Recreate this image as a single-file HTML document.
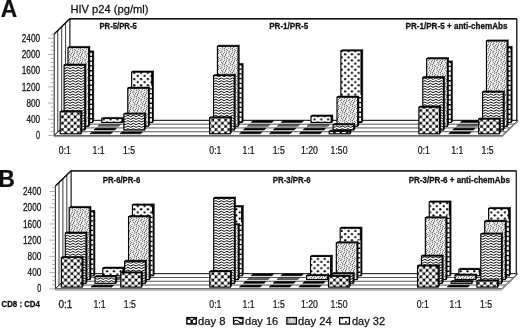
<!DOCTYPE html>
<html lang="en"><head><meta charset="utf-8"><title>HIV p24 figure</title>
<style>
html,body{margin:0;padding:0;background:#fff}
body{width:520px;height:329px;overflow:hidden}
svg{display:block}
text{font-family:"Liberation Sans",sans-serif;fill:#111;stroke:#111;stroke-width:0.25px}
.pl{font-weight:bold;font-size:23.2px}
.ti{font-size:11.2px}
.bt{font-weight:bold;font-size:9.3px;stroke-width:0.3px}
.ax{font-size:10.1px}
.cl{font-size:11.7px}
.lg{font-size:11.7px}
</style></head><body>
<svg width="520" height="329" viewBox="0 0 520 329">
<defs>
<pattern id="p0" width="6.4" height="6.4" patternUnits="userSpaceOnUse"><rect width="6.4" height="6.4" fill="#000"/><circle cx="1.600" cy="1.600" r="2.05" fill="#fff"/><circle cx="4.800" cy="4.800" r="2.05" fill="#fff"/><circle cx="8.000" cy="1.600" r="2.05" fill="#fff"/><circle cx="1.600" cy="8.000" r="2.05" fill="#fff"/><circle cx="-1.600" cy="4.800" r="2.05" fill="#fff"/><circle cx="4.800" cy="-1.600" r="2.05" fill="#fff"/><circle cx="8.000" cy="8.000" r="2.05" fill="#fff"/><circle cx="-1.600" cy="-1.600" r="2.05" fill="#fff"/></pattern>
<pattern id="p1" width="11" height="8" patternUnits="userSpaceOnUse"><rect width="11" height="8" fill="#fff"/><g fill="none" stroke="#000" stroke-width="1.0"><path d="M-2.75 -1.33 Q-1.375 -0.03 0 -1.33 T2.750 -1.33 T5.500 -1.33 T8.250 -1.33 T11.000 -1.33 T13.750 -1.33 T16.500 -1.33"/><path d="M-2.75 1.33 Q-1.375 2.63 0 1.33 T2.750 1.33 T5.500 1.33 T8.250 1.33 T11.000 1.33 T13.750 1.33 T16.500 1.33"/><path d="M-2.75 4.00 Q-1.375 5.30 0 4.00 T2.750 4.00 T5.500 4.00 T8.250 4.00 T11.000 4.00 T13.750 4.00 T16.500 4.00"/><path d="M-2.75 6.67 Q-1.375 7.97 0 6.67 T2.750 6.67 T5.500 6.67 T8.250 6.67 T11.000 6.67 T13.750 6.67 T16.500 6.67"/><path d="M-2.75 9.33 Q-1.375 10.63 0 9.33 T2.750 9.33 T5.500 9.33 T8.250 9.33 T11.000 9.33 T13.750 9.33 T16.500 9.33"/></g></pattern>
<pattern id="p2" width="8" height="8" patternUnits="userSpaceOnUse"><rect width="8" height="8" fill="#ececec"/><rect x="0" y="0" width="1" height="1" fill="#6e6e6e"/><rect x="0" y="2" width="1" height="1" fill="#6e6e6e"/><rect x="0" y="4" width="1" height="1" fill="#808080"/><rect x="1" y="6" width="1" height="1" fill="#6e6e6e"/><rect x="1" y="7" width="1" height="1" fill="#7a7a7a"/><rect x="2" y="1" width="1" height="1" fill="#6e6e6e"/><rect x="2" y="3" width="1" height="1" fill="#808080"/><rect x="2" y="5" width="1" height="1" fill="#6e6e6e"/><rect x="3" y="2" width="1" height="1" fill="#808080"/><rect x="4" y="0" width="1" height="1" fill="#929292"/><rect x="4" y="4" width="1" height="1" fill="#7a7a7a"/><rect x="5" y="3" width="1" height="1" fill="#808080"/><rect x="5" y="6" width="1" height="1" fill="#6e6e6e"/><rect x="6" y="1" width="1" height="1" fill="#929292"/><rect x="6" y="7" width="1" height="1" fill="#808080"/><rect x="7" y="5" width="1" height="1" fill="#6e6e6e"/><rect x="0" y="1" width="1" height="1" fill="#c4c4c4"/><rect x="2" y="4" width="1" height="1" fill="#c4c4c4"/><rect x="5" y="2" width="1" height="1" fill="#c4c4c4"/><rect x="5" y="4" width="1" height="1" fill="#c4c4c4"/><rect x="6" y="0" width="1" height="1" fill="#c4c4c4"/><rect x="6" y="3" width="1" height="1" fill="#c4c4c4"/><rect x="7" y="0" width="1" height="1" fill="#c4c4c4"/><rect x="7" y="6" width="1" height="1" fill="#c4c4c4"/></pattern>
<pattern id="p3" width="6.8" height="6.2" patternUnits="userSpaceOnUse"><rect width="6.8" height="6.2" fill="#fff"/><circle cx="1.7" cy="1.55" r="1.15" fill="#000"/><circle cx="5.1" cy="4.65" r="1.15" fill="#000"/></pattern>
</defs>
<rect width="520" height="329" fill="#fff"/>
<g stroke="#222" stroke-width="1" fill="#fff" stroke-linejoin="miter">
<polygon points="69.8,18.78 516.8,18.78 516.8,120.38 69.8,120.38"/>
<polygon points="54.2,33.9 69.8,18.78 69.8,120.38 54.2,135.5"/>
<line x1="57.8" y1="30.12" x2="57.8" y2="131.72" stroke-width="0.9"/>
<line x1="61.7" y1="26.34" x2="61.7" y2="127.94" stroke-width="0.9"/>
<line x1="65.6" y1="22.56" x2="65.6" y2="124.16" stroke-width="0.9"/>
<polyline points="54.2,33.9 69.8,18.78 516.8,18.78" fill="none" stroke="#111" stroke-width="1.4"/>
<polygon points="54.2,135.5 69.8,120.38 517.8,120.38 502.2,135.5"/>
<line x1="58.1" y1="131.72" x2="506.1" y2="131.72" stroke="#3a3a3a" stroke-width="0.85"/>
<line x1="62" y1="127.94" x2="510" y2="127.94" stroke="#3a3a3a" stroke-width="0.85"/>
<line x1="65.9" y1="124.16" x2="513.9" y2="124.16" stroke="#3a3a3a" stroke-width="0.85"/>
<polygon points="54.2,135.5 502.2,135.5 517.8,120.38 517.8,121.58 502.2,136.7 54.2,136.7" fill="#fff" stroke="#555" stroke-width="0.7"/>
<line x1="516.8" y1="18.78" x2="516.8" y2="120.38" stroke-width="1"/>
</g>
<g stroke="#8a8a8a" stroke-width="0.7">
<line x1="51" y1="34.15" x2="54.2" y2="34.15"/>
<line x1="48.2" y1="38.2" x2="54.2" y2="38.2"/>
<line x1="51" y1="42.25" x2="54.2" y2="42.25"/>
<line x1="51" y1="46.31" x2="54.2" y2="46.31"/>
<line x1="51" y1="50.36" x2="54.2" y2="50.36"/>
<line x1="48.2" y1="54.42" x2="54.2" y2="54.42"/>
<line x1="51" y1="58.47" x2="54.2" y2="58.47"/>
<line x1="51" y1="62.52" x2="54.2" y2="62.52"/>
<line x1="51" y1="66.58" x2="54.2" y2="66.58"/>
<line x1="48.2" y1="70.63" x2="54.2" y2="70.63"/>
<line x1="51" y1="74.69" x2="54.2" y2="74.69"/>
<line x1="51" y1="78.74" x2="54.2" y2="78.74"/>
<line x1="51" y1="82.79" x2="54.2" y2="82.79"/>
<line x1="48.2" y1="86.85" x2="54.2" y2="86.85"/>
<line x1="51" y1="90.9" x2="54.2" y2="90.9"/>
<line x1="51" y1="94.96" x2="54.2" y2="94.96"/>
<line x1="51" y1="99.01" x2="54.2" y2="99.01"/>
<line x1="48.2" y1="103.06" x2="54.2" y2="103.06"/>
<line x1="51" y1="107.12" x2="54.2" y2="107.12"/>
<line x1="51" y1="111.17" x2="54.2" y2="111.17"/>
<line x1="51" y1="115.23" x2="54.2" y2="115.23"/>
<line x1="48.2" y1="119.28" x2="54.2" y2="119.28"/>
<line x1="51" y1="123.33" x2="54.2" y2="123.33"/>
<line x1="51" y1="127.39" x2="54.2" y2="127.39"/>
<line x1="51" y1="131.44" x2="54.2" y2="131.44"/>
<line x1="48.2" y1="135.5" x2="54.2" y2="135.5"/>
</g>
<polygon points="92.59,122.46 93.72,121.36 93.72,50.9 92.59,52" fill="#000" stroke="#000" stroke-width="0.6"/>
<polygon points="71.89,52 92.59,52 93.72,50.9 73.02,50.9" fill="#000" stroke="#000" stroke-width="0.6"/>
<rect x="71.89" y="52" width="20.7" height="70.46" fill="url(#p3)" stroke="#000" stroke-width="1.15"/>
<line x1="91.99" y1="52" x2="91.99" y2="122.46" stroke="#000" stroke-width="1.0"/>
<line x1="90.79" y1="53.2" x2="90.79" y2="121.86" stroke="#fff" stroke-width="2.6"/>
<line x1="90.79" y1="53.2" x2="90.79" y2="121.96" stroke="#000" stroke-width="2.6" stroke-dasharray="1.3 3.5" stroke-dashoffset="-2.5"/>
<polygon points="122.48,122.46 123.61,121.36 123.61,117.4 122.48,118.5" fill="#000" stroke="#000" stroke-width="0.6"/>
<polygon points="101.78,118.5 122.48,118.5 123.61,117.4 102.91,117.4" fill="#000" stroke="#000" stroke-width="0.6"/>
<rect x="101.78" y="118.5" width="20.7" height="3.96" fill="url(#p3)" stroke="#000" stroke-width="1.15"/>
<line x1="121.88" y1="118.5" x2="121.88" y2="122.46" stroke="#000" stroke-width="1.0"/>
<polygon points="152.37,122.46 153.5,121.36 153.5,71 152.37,72.1" fill="#000" stroke="#000" stroke-width="0.6"/>
<polygon points="131.67,72.1 152.37,72.1 153.5,71 132.8,71" fill="#000" stroke="#000" stroke-width="0.6"/>
<rect x="131.67" y="72.1" width="20.7" height="50.36" fill="url(#p3)" stroke="#000" stroke-width="1.15"/>
<line x1="151.77" y1="72.1" x2="151.77" y2="122.46" stroke="#000" stroke-width="1.0"/>
<line x1="150.56" y1="85.7" x2="150.56" y2="121.86" stroke="#fff" stroke-width="2.6"/>
<line x1="150.56" y1="85.7" x2="150.56" y2="121.96" stroke="#000" stroke-width="2.6" stroke-dasharray="1.3 3.5" stroke-dashoffset="-2.5"/>
<polygon points="242.03,122.46 243.17,121.36 243.17,63.6 242.03,64.7" fill="#000" stroke="#000" stroke-width="0.6"/>
<polygon points="221.33,64.7 242.03,64.7 243.17,63.6 222.47,63.6" fill="#000" stroke="#000" stroke-width="0.6"/>
<rect x="221.33" y="64.7" width="20.7" height="57.76" fill="url(#p3)" stroke="#000" stroke-width="1.15"/>
<line x1="241.43" y1="64.7" x2="241.43" y2="122.46" stroke="#000" stroke-width="1.0"/>
<line x1="240.23" y1="65.9" x2="240.23" y2="121.86" stroke="#fff" stroke-width="2.6"/>
<line x1="240.23" y1="65.9" x2="240.23" y2="121.96" stroke="#000" stroke-width="2.6" stroke-dasharray="1.3 3.5" stroke-dashoffset="-2.5"/>
<polygon points="251.23,122.46 271.93,122.46 273.76,120.68 253.06,120.68" fill="#000" stroke="#000" stroke-width="0.6"/>
<polygon points="281.12,122.46 301.81,122.46 303.65,120.68 282.95,120.68" fill="#000" stroke="#000" stroke-width="0.6"/>
<polygon points="331.7,122.46 332.84,121.36 332.84,115 331.7,116.1" fill="#000" stroke="#000" stroke-width="0.6"/>
<polygon points="311,116.1 331.7,116.1 332.84,115 312.14,115" fill="#000" stroke="#000" stroke-width="0.6"/>
<rect x="311" y="116.1" width="20.7" height="6.36" fill="url(#p3)" stroke="#000" stroke-width="1.15"/>
<line x1="331.1" y1="116.1" x2="331.1" y2="122.46" stroke="#000" stroke-width="1.0"/>
<polygon points="361.59,122.46 362.73,121.36 362.73,49.7 361.59,50.8" fill="#000" stroke="#000" stroke-width="0.6"/>
<polygon points="340.89,50.8 361.59,50.8 362.73,49.7 342.03,49.7" fill="#000" stroke="#000" stroke-width="0.6"/>
<rect x="340.89" y="50.8" width="20.7" height="71.66" fill="url(#p3)" stroke="#000" stroke-width="1.15"/>
<line x1="360.99" y1="50.8" x2="360.99" y2="122.46" stroke="#000" stroke-width="1.0"/>
<line x1="359.79" y1="94.7" x2="359.79" y2="121.86" stroke="#fff" stroke-width="2.6"/>
<line x1="359.79" y1="94.7" x2="359.79" y2="121.96" stroke="#000" stroke-width="2.6" stroke-dasharray="1.3 3.5" stroke-dashoffset="-2.5"/>
<polygon points="451.26,122.46 452.4,121.36 452.4,60.9 451.26,62" fill="#000" stroke="#000" stroke-width="0.6"/>
<polygon points="430.56,62 451.26,62 452.4,60.9 431.7,60.9" fill="#000" stroke="#000" stroke-width="0.6"/>
<rect x="430.56" y="62" width="20.7" height="60.46" fill="url(#p3)" stroke="#000" stroke-width="1.15"/>
<line x1="450.66" y1="62" x2="450.66" y2="122.46" stroke="#000" stroke-width="1.0"/>
<line x1="449.46" y1="63.2" x2="449.46" y2="121.86" stroke="#fff" stroke-width="2.6"/>
<line x1="449.46" y1="63.2" x2="449.46" y2="121.96" stroke="#000" stroke-width="2.6" stroke-dasharray="1.3 3.5" stroke-dashoffset="-2.5"/>
<polygon points="460.45,122.46 481.15,122.46 482.99,120.68 462.29,120.68" fill="#000" stroke="#000" stroke-width="0.6"/>
<polygon points="511.05,122.46 512.18,121.36 512.18,46.4 511.05,47.5" fill="#000" stroke="#000" stroke-width="0.6"/>
<polygon points="490.35,47.5 511.05,47.5 512.18,46.4 491.48,46.4" fill="#000" stroke="#000" stroke-width="0.6"/>
<rect x="490.35" y="47.5" width="20.7" height="74.96" fill="url(#p3)" stroke="#000" stroke-width="1.15"/>
<line x1="510.44" y1="47.5" x2="510.44" y2="122.46" stroke="#000" stroke-width="1.0"/>
<line x1="509.25" y1="48.7" x2="509.25" y2="121.86" stroke="#fff" stroke-width="2.6"/>
<line x1="509.25" y1="48.7" x2="509.25" y2="121.96" stroke="#000" stroke-width="2.6" stroke-dasharray="1.3 3.5" stroke-dashoffset="-2.5"/>
<polygon points="88.69,126.24 89.82,125.14 89.82,46.4 88.69,47.5" fill="#000" stroke="#000" stroke-width="0.6"/>
<polygon points="67.99,47.5 88.69,47.5 89.82,46.4 69.12,46.4" fill="#000" stroke="#000" stroke-width="0.6"/>
<rect x="67.99" y="47.5" width="20.7" height="78.74" fill="url(#p2)" stroke="#000" stroke-width="1.15"/>
<polygon points="97.88,126.24 118.58,126.24 120.41,124.46 99.71,124.46" fill="#707070" stroke="#1a1a1a" stroke-width="0.6"/>
<polygon points="148.47,126.24 149.6,125.14 149.6,87.1 148.47,88.2" fill="#000" stroke="#000" stroke-width="0.6"/>
<polygon points="127.77,88.2 148.47,88.2 149.6,87.1 128.9,87.1" fill="#000" stroke="#000" stroke-width="0.6"/>
<rect x="127.77" y="88.2" width="20.7" height="38.04" fill="url(#p2)" stroke="#000" stroke-width="1.15"/>
<polygon points="238.13,126.24 239.27,125.14 239.27,45.2 238.13,46.3" fill="#000" stroke="#000" stroke-width="0.6"/>
<polygon points="217.43,46.3 238.13,46.3 239.27,45.2 218.57,45.2" fill="#000" stroke="#000" stroke-width="0.6"/>
<rect x="217.43" y="46.3" width="20.7" height="79.94" fill="url(#p2)" stroke="#000" stroke-width="1.15"/>
<polygon points="247.33,126.24 268.03,126.24 269.86,124.46 249.16,124.46" fill="#707070" stroke="#1a1a1a" stroke-width="0.6"/>
<polygon points="277.22,126.24 297.92,126.24 299.75,124.46 279.05,124.46" fill="#707070" stroke="#1a1a1a" stroke-width="0.6"/>
<polygon points="307.11,126.24 327.81,126.24 329.64,124.46 308.94,124.46" fill="#707070" stroke="#1a1a1a" stroke-width="0.6"/>
<polygon points="357.69,126.24 358.83,125.14 358.83,96.1 357.69,97.2" fill="#000" stroke="#000" stroke-width="0.6"/>
<polygon points="337,97.2 357.69,97.2 358.83,96.1 338.13,96.1" fill="#000" stroke="#000" stroke-width="0.6"/>
<rect x="337" y="97.2" width="20.7" height="29.04" fill="url(#p2)" stroke="#000" stroke-width="1.15"/>
<polygon points="447.37,126.24 448.5,125.14 448.5,57.6 447.37,58.7" fill="#000" stroke="#000" stroke-width="0.6"/>
<polygon points="426.67,58.7 447.37,58.7 448.5,57.6 427.8,57.6" fill="#000" stroke="#000" stroke-width="0.6"/>
<rect x="426.67" y="58.7" width="20.7" height="67.54" fill="url(#p2)" stroke="#000" stroke-width="1.15"/>
<polygon points="456.56,126.24 477.25,126.24 479.09,124.46 458.39,124.46" fill="#707070" stroke="#1a1a1a" stroke-width="0.6"/>
<polygon points="507.15,126.24 508.28,125.14 508.28,39.9 507.15,41" fill="#000" stroke="#000" stroke-width="0.6"/>
<polygon points="486.45,41 507.15,41 508.28,39.9 487.58,39.9" fill="#000" stroke="#000" stroke-width="0.6"/>
<rect x="486.45" y="41" width="20.7" height="85.24" fill="url(#p2)" stroke="#000" stroke-width="1.15"/>
<polygon points="84.79,130.02 85.92,128.92 85.92,64 84.79,65.1" fill="#000" stroke="#000" stroke-width="0.6"/>
<polygon points="64.09,65.1 84.79,65.1 85.92,64 65.22,64" fill="#000" stroke="#000" stroke-width="0.6"/>
<rect x="64.09" y="65.1" width="20.7" height="64.92" fill="url(#p1)" stroke="#000" stroke-width="1.15"/>
<polygon points="93.98,130.02 114.68,130.02 116.51,128.24 95.81,128.24" fill="#000" stroke="#000" stroke-width="0.6"/>
<polygon points="144.56,130.02 145.7,128.92 145.7,112.9 144.56,114" fill="#000" stroke="#000" stroke-width="0.6"/>
<polygon points="123.87,114 144.56,114 145.7,112.9 125,112.9" fill="#000" stroke="#000" stroke-width="0.6"/>
<rect x="123.87" y="114" width="20.7" height="16.02" fill="url(#p1)" stroke="#000" stroke-width="1.15"/>
<polygon points="234.23,130.02 235.37,128.92 235.37,74.4 234.23,75.5" fill="#000" stroke="#000" stroke-width="0.6"/>
<polygon points="213.53,75.5 234.23,75.5 235.37,74.4 214.67,74.4" fill="#000" stroke="#000" stroke-width="0.6"/>
<rect x="213.53" y="75.5" width="20.7" height="54.52" fill="url(#p1)" stroke="#000" stroke-width="1.15"/>
<polygon points="243.43,130.02 264.12,130.02 265.96,128.24 245.26,128.24" fill="#000" stroke="#000" stroke-width="0.6"/>
<polygon points="273.31,130.02 294.01,130.02 295.85,128.24 275.15,128.24" fill="#000" stroke="#000" stroke-width="0.6"/>
<polygon points="303.2,130.02 323.9,130.02 325.74,128.24 305.04,128.24" fill="#000" stroke="#000" stroke-width="0.6"/>
<polygon points="353.79,130.02 354.93,128.92 354.93,123.6 353.79,124.7" fill="#000" stroke="#000" stroke-width="0.6"/>
<polygon points="333.09,124.7 353.79,124.7 354.93,123.6 334.23,123.6" fill="#000" stroke="#000" stroke-width="0.6"/>
<rect x="333.09" y="124.7" width="20.7" height="5.32" fill="url(#p1)" stroke="#000" stroke-width="1.15"/>
<polygon points="443.46,130.02 444.6,128.92 444.6,76.4 443.46,77.5" fill="#000" stroke="#000" stroke-width="0.6"/>
<polygon points="422.76,77.5 443.46,77.5 444.6,76.4 423.9,76.4" fill="#000" stroke="#000" stroke-width="0.6"/>
<rect x="422.76" y="77.5" width="20.7" height="52.52" fill="url(#p1)" stroke="#000" stroke-width="1.15"/>
<polygon points="452.65,130.02 473.35,130.02 475.19,128.24 454.49,128.24" fill="#000" stroke="#000" stroke-width="0.6"/>
<polygon points="503.25,130.02 504.38,128.92 504.38,90.9 503.25,92" fill="#000" stroke="#000" stroke-width="0.6"/>
<polygon points="482.55,92 503.25,92 504.38,90.9 483.68,90.9" fill="#000" stroke="#000" stroke-width="0.6"/>
<rect x="482.55" y="92" width="20.7" height="38.02" fill="url(#p1)" stroke="#000" stroke-width="1.15"/>
<polygon points="80.89,133.8 82.02,132.7 82.02,110.7 80.89,111.8" fill="#000" stroke="#000" stroke-width="0.6"/>
<polygon points="60.19,111.8 80.89,111.8 82.02,110.7 61.32,110.7" fill="#000" stroke="#000" stroke-width="0.6"/>
<rect x="60.19" y="111.8" width="20.7" height="22" fill="url(#p0)" stroke="#000" stroke-width="1.15"/>
<polygon points="90.08,133.8 110.78,133.8 112.61,132.02 91.91,132.02" fill="#000" stroke="#000" stroke-width="0.6"/>
<polygon points="119.97,133.8 140.66,133.8 142.5,132.02 121.8,132.02" fill="#000" stroke="#000" stroke-width="0.6"/>
<polygon points="230.33,133.8 231.47,132.7 231.47,116.7 230.33,117.8" fill="#000" stroke="#000" stroke-width="0.6"/>
<polygon points="209.63,117.8 230.33,117.8 231.47,116.7 210.77,116.7" fill="#000" stroke="#000" stroke-width="0.6"/>
<rect x="209.63" y="117.8" width="20.7" height="16" fill="url(#p0)" stroke="#000" stroke-width="1.15"/>
<polygon points="239.53,133.8 260.23,133.8 262.06,132.02 241.36,132.02" fill="#000" stroke="#000" stroke-width="0.6"/>
<polygon points="269.42,133.8 290.12,133.8 291.95,132.02 271.25,132.02" fill="#000" stroke="#000" stroke-width="0.6"/>
<polygon points="299.31,133.8 320,133.8 321.84,132.02 301.14,132.02" fill="#000" stroke="#000" stroke-width="0.6"/>
<polygon points="349.89,133.8 351.03,132.7 351.03,130.2 349.89,131.3" fill="#000" stroke="#000" stroke-width="0.6"/>
<polygon points="329.19,131.3 349.89,131.3 351.03,130.2 330.33,130.2" fill="#000" stroke="#000" stroke-width="0.6"/>
<rect x="329.19" y="131.3" width="20.7" height="2.5" fill="url(#p0)" stroke="#000" stroke-width="1.15"/>
<polygon points="439.56,133.8 440.7,132.7 440.7,106.1 439.56,107.2" fill="#000" stroke="#000" stroke-width="0.6"/>
<polygon points="418.87,107.2 439.56,107.2 440.7,106.1 420,106.1" fill="#000" stroke="#000" stroke-width="0.6"/>
<rect x="418.87" y="107.2" width="20.7" height="26.6" fill="url(#p0)" stroke="#000" stroke-width="1.15"/>
<polygon points="448.75,133.8 469.45,133.8 471.29,132.02 450.59,132.02" fill="#000" stroke="#000" stroke-width="0.6"/>
<polygon points="499.35,133.8 500.48,132.7 500.48,118 499.35,119.1" fill="#000" stroke="#000" stroke-width="0.6"/>
<polygon points="478.65,119.1 499.35,119.1 500.48,118 479.78,118" fill="#000" stroke="#000" stroke-width="0.6"/>
<rect x="478.65" y="119.1" width="20.7" height="14.7" fill="url(#p0)" stroke="#000" stroke-width="1.15"/>
<g stroke="#222" stroke-width="1" fill="#fff" stroke-linejoin="miter">
<polygon points="71,170.88 516.3,170.88 516.3,273.68 71,273.68"/>
<polygon points="55.4,186 71,170.88 71,273.68 55.4,288.8"/>
<line x1="59" y1="182.22" x2="59" y2="285.02" stroke-width="0.9"/>
<line x1="62.9" y1="178.44" x2="62.9" y2="281.24" stroke-width="0.9"/>
<line x1="66.8" y1="174.66" x2="66.8" y2="277.46" stroke-width="0.9"/>
<polyline points="55.4,186 71,170.88 516.3,170.88" fill="none" stroke="#111" stroke-width="1.4"/>
<polygon points="55.4,288.8 71,273.68 517.3,273.68 501.7,288.8"/>
<line x1="59.3" y1="285.02" x2="505.6" y2="285.02" stroke="#3a3a3a" stroke-width="0.85"/>
<line x1="63.2" y1="281.24" x2="509.5" y2="281.24" stroke="#3a3a3a" stroke-width="0.85"/>
<line x1="67.1" y1="277.46" x2="513.4" y2="277.46" stroke="#3a3a3a" stroke-width="0.85"/>
<polygon points="55.4,288.8 501.7,288.8 517.3,273.68 517.3,274.88 501.7,290 55.4,290" fill="#fff" stroke="#555" stroke-width="0.7"/>
<line x1="516.3" y1="170.88" x2="516.3" y2="273.68" stroke-width="1"/>
</g>
<g stroke="#8a8a8a" stroke-width="0.7">
<line x1="52.2" y1="187.45" x2="55.4" y2="187.45"/>
<line x1="49.4" y1="191.5" x2="55.4" y2="191.5"/>
<line x1="52.2" y1="195.55" x2="55.4" y2="195.55"/>
<line x1="52.2" y1="199.61" x2="55.4" y2="199.61"/>
<line x1="52.2" y1="203.66" x2="55.4" y2="203.66"/>
<line x1="49.4" y1="207.72" x2="55.4" y2="207.72"/>
<line x1="52.2" y1="211.77" x2="55.4" y2="211.77"/>
<line x1="52.2" y1="215.82" x2="55.4" y2="215.82"/>
<line x1="52.2" y1="219.88" x2="55.4" y2="219.88"/>
<line x1="49.4" y1="223.93" x2="55.4" y2="223.93"/>
<line x1="52.2" y1="227.99" x2="55.4" y2="227.99"/>
<line x1="52.2" y1="232.04" x2="55.4" y2="232.04"/>
<line x1="52.2" y1="236.09" x2="55.4" y2="236.09"/>
<line x1="49.4" y1="240.15" x2="55.4" y2="240.15"/>
<line x1="52.2" y1="244.2" x2="55.4" y2="244.2"/>
<line x1="52.2" y1="248.26" x2="55.4" y2="248.26"/>
<line x1="52.2" y1="252.31" x2="55.4" y2="252.31"/>
<line x1="49.4" y1="256.36" x2="55.4" y2="256.36"/>
<line x1="52.2" y1="260.42" x2="55.4" y2="260.42"/>
<line x1="52.2" y1="264.47" x2="55.4" y2="264.47"/>
<line x1="52.2" y1="268.53" x2="55.4" y2="268.53"/>
<line x1="49.4" y1="272.58" x2="55.4" y2="272.58"/>
<line x1="52.2" y1="276.63" x2="55.4" y2="276.63"/>
<line x1="52.2" y1="280.69" x2="55.4" y2="280.69"/>
<line x1="52.2" y1="284.74" x2="55.4" y2="284.74"/>
<line x1="49.4" y1="288.8" x2="55.4" y2="288.8"/>
</g>
<polygon points="93.78,275.76 94.92,274.66 94.92,210.6 93.78,211.7" fill="#000" stroke="#000" stroke-width="0.6"/>
<polygon points="73.08,211.7 93.78,211.7 94.92,210.6 74.22,210.6" fill="#000" stroke="#000" stroke-width="0.6"/>
<rect x="73.08" y="211.7" width="20.7" height="64.06" fill="url(#p3)" stroke="#000" stroke-width="1.15"/>
<line x1="93.19" y1="211.7" x2="93.19" y2="275.76" stroke="#000" stroke-width="1.0"/>
<line x1="91.98" y1="212.9" x2="91.98" y2="275.16" stroke="#fff" stroke-width="2.6"/>
<line x1="91.98" y1="212.9" x2="91.98" y2="275.26" stroke="#000" stroke-width="2.6" stroke-dasharray="1.3 3.5" stroke-dashoffset="-2.5"/>
<polygon points="123.47,275.76 124.6,274.66 124.6,267.1 123.47,268.2" fill="#000" stroke="#000" stroke-width="0.6"/>
<polygon points="102.77,268.2 123.47,268.2 124.6,267.1 103.9,267.1" fill="#000" stroke="#000" stroke-width="0.6"/>
<rect x="102.77" y="268.2" width="20.7" height="7.56" fill="url(#p3)" stroke="#000" stroke-width="1.15"/>
<line x1="122.87" y1="268.2" x2="122.87" y2="275.76" stroke="#000" stroke-width="1.0"/>
<polygon points="153.14,275.76 154.28,274.66 154.28,203.9 153.14,205" fill="#000" stroke="#000" stroke-width="0.6"/>
<polygon points="132.44,205 153.14,205 154.28,203.9 133.58,203.9" fill="#000" stroke="#000" stroke-width="0.6"/>
<rect x="132.44" y="205" width="20.7" height="70.76" fill="url(#p3)" stroke="#000" stroke-width="1.15"/>
<line x1="152.54" y1="205" x2="152.54" y2="275.76" stroke="#000" stroke-width="1.0"/>
<line x1="151.34" y1="214.2" x2="151.34" y2="275.16" stroke="#fff" stroke-width="2.6"/>
<line x1="151.34" y1="214.2" x2="151.34" y2="275.26" stroke="#000" stroke-width="2.6" stroke-dasharray="1.3 3.5" stroke-dashoffset="-2.5"/>
<polygon points="242.19,275.76 243.32,274.66 243.32,205.6 242.19,206.7" fill="#000" stroke="#000" stroke-width="0.6"/>
<polygon points="221.49,206.7 242.19,206.7 243.32,205.6 222.62,205.6" fill="#000" stroke="#000" stroke-width="0.6"/>
<rect x="221.49" y="206.7" width="20.7" height="69.06" fill="url(#p3)" stroke="#000" stroke-width="1.15"/>
<line x1="241.59" y1="206.7" x2="241.59" y2="275.76" stroke="#000" stroke-width="1.0"/>
<line x1="240.38" y1="222.3" x2="240.38" y2="275.16" stroke="#fff" stroke-width="2.6"/>
<line x1="240.38" y1="222.3" x2="240.38" y2="275.26" stroke="#000" stroke-width="2.6" stroke-dasharray="1.3 3.5" stroke-dashoffset="-2.5"/>
<polygon points="251.16,275.76 271.87,275.76 273.7,273.98 253,273.98" fill="#000" stroke="#000" stroke-width="0.6"/>
<polygon points="280.84,275.76 301.54,275.76 303.38,273.98 282.68,273.98" fill="#000" stroke="#000" stroke-width="0.6"/>
<polygon points="331.22,275.76 332.36,274.66 332.36,255.3 331.22,256.4" fill="#000" stroke="#000" stroke-width="0.6"/>
<polygon points="310.52,256.4 331.22,256.4 332.36,255.3 311.66,255.3" fill="#000" stroke="#000" stroke-width="0.6"/>
<rect x="310.52" y="256.4" width="20.7" height="19.36" fill="url(#p3)" stroke="#000" stroke-width="1.15"/>
<line x1="330.62" y1="256.4" x2="330.62" y2="275.76" stroke="#000" stroke-width="1.0"/>
<polygon points="360.9,275.76 362.04,274.66 362.04,227.1 360.9,228.2" fill="#000" stroke="#000" stroke-width="0.6"/>
<polygon points="340.2,228.2 360.9,228.2 362.04,227.1 341.34,227.1" fill="#000" stroke="#000" stroke-width="0.6"/>
<rect x="340.2" y="228.2" width="20.7" height="47.56" fill="url(#p3)" stroke="#000" stroke-width="1.15"/>
<line x1="360.3" y1="228.2" x2="360.3" y2="275.76" stroke="#000" stroke-width="1.0"/>
<line x1="359.1" y1="240.3" x2="359.1" y2="275.16" stroke="#fff" stroke-width="2.6"/>
<line x1="359.1" y1="240.3" x2="359.1" y2="275.26" stroke="#000" stroke-width="2.6" stroke-dasharray="1.3 3.5" stroke-dashoffset="-2.5"/>
<polygon points="449.94,275.76 451.08,274.66 451.08,200.9 449.94,202" fill="#000" stroke="#000" stroke-width="0.6"/>
<polygon points="429.24,202 449.94,202 451.08,200.9 430.38,200.9" fill="#000" stroke="#000" stroke-width="0.6"/>
<rect x="429.24" y="202" width="20.7" height="73.76" fill="url(#p3)" stroke="#000" stroke-width="1.15"/>
<line x1="449.34" y1="202" x2="449.34" y2="275.76" stroke="#000" stroke-width="1.0"/>
<line x1="448.14" y1="215.3" x2="448.14" y2="275.16" stroke="#fff" stroke-width="2.6"/>
<line x1="448.14" y1="215.3" x2="448.14" y2="275.26" stroke="#000" stroke-width="2.6" stroke-dasharray="1.3 3.5" stroke-dashoffset="-2.5"/>
<polygon points="479.62,275.76 480.76,274.66 480.76,268.3 479.62,269.4" fill="#000" stroke="#000" stroke-width="0.6"/>
<polygon points="458.92,269.4 479.62,269.4 480.76,268.3 460.06,268.3" fill="#000" stroke="#000" stroke-width="0.6"/>
<rect x="458.92" y="269.4" width="20.7" height="6.36" fill="url(#p3)" stroke="#000" stroke-width="1.15"/>
<line x1="479.02" y1="269.4" x2="479.02" y2="275.76" stroke="#000" stroke-width="1.0"/>
<line x1="477.82" y1="272.6" x2="477.82" y2="275.16" stroke="#fff" stroke-width="2.6"/>
<line x1="477.82" y1="272.6" x2="477.82" y2="275.26" stroke="#000" stroke-width="2.6" stroke-dasharray="1.3 3.5" stroke-dashoffset="-2.5"/>
<polygon points="509.3,275.76 510.44,274.66 510.44,207.4 509.3,208.5" fill="#000" stroke="#000" stroke-width="0.6"/>
<polygon points="488.6,208.5 509.3,208.5 510.44,207.4 489.74,207.4" fill="#000" stroke="#000" stroke-width="0.6"/>
<rect x="488.6" y="208.5" width="20.7" height="67.26" fill="url(#p3)" stroke="#000" stroke-width="1.15"/>
<line x1="508.7" y1="208.5" x2="508.7" y2="275.76" stroke="#000" stroke-width="1.0"/>
<line x1="507.5" y1="218.8" x2="507.5" y2="275.16" stroke="#fff" stroke-width="2.6"/>
<line x1="507.5" y1="218.8" x2="507.5" y2="275.26" stroke="#000" stroke-width="2.6" stroke-dasharray="1.3 3.5" stroke-dashoffset="-2.5"/>
<polygon points="89.89,279.54 91.02,278.44 91.02,206.4 89.89,207.5" fill="#000" stroke="#000" stroke-width="0.6"/>
<polygon points="69.19,207.5 89.89,207.5 91.02,206.4 70.32,206.4" fill="#000" stroke="#000" stroke-width="0.6"/>
<rect x="69.19" y="207.5" width="20.7" height="72.04" fill="url(#p2)" stroke="#000" stroke-width="1.15"/>
<polygon points="98.87,279.54 119.57,279.54 121.4,277.76 100.7,277.76" fill="#707070" stroke="#1a1a1a" stroke-width="0.6"/>
<polygon points="149.24,279.54 150.38,278.44 150.38,215.6 149.24,216.7" fill="#000" stroke="#000" stroke-width="0.6"/>
<polygon points="128.54,216.7 149.24,216.7 150.38,215.6 129.68,215.6" fill="#000" stroke="#000" stroke-width="0.6"/>
<rect x="128.54" y="216.7" width="20.7" height="62.84" fill="url(#p2)" stroke="#000" stroke-width="1.15"/>
<polygon points="238.28,279.54 239.42,278.44 239.42,223.7 238.28,224.8" fill="#000" stroke="#000" stroke-width="0.6"/>
<polygon points="217.59,224.8 238.28,224.8 239.42,223.7 218.72,223.7" fill="#000" stroke="#000" stroke-width="0.6"/>
<rect x="217.59" y="224.8" width="20.7" height="54.74" fill="url(#p2)" stroke="#000" stroke-width="1.15"/>
<polygon points="247.26,279.54 267.96,279.54 269.8,277.76 249.1,277.76" fill="#707070" stroke="#1a1a1a" stroke-width="0.6"/>
<polygon points="276.94,279.54 297.64,279.54 299.48,277.76 278.78,277.76" fill="#707070" stroke="#1a1a1a" stroke-width="0.6"/>
<polygon points="327.32,279.54 328.46,278.44 328.46,274.4 327.32,275.5" fill="#000" stroke="#000" stroke-width="0.6"/>
<polygon points="306.62,275.5 327.32,275.5 328.46,274.4 307.76,274.4" fill="#000" stroke="#000" stroke-width="0.6"/>
<rect x="306.62" y="275.5" width="20.7" height="4.04" fill="url(#p2)" stroke="#000" stroke-width="1.15"/>
<polygon points="357,279.54 358.14,278.44 358.14,241.7 357,242.8" fill="#000" stroke="#000" stroke-width="0.6"/>
<polygon points="336.31,242.8 357,242.8 358.14,241.7 337.44,241.7" fill="#000" stroke="#000" stroke-width="0.6"/>
<rect x="336.31" y="242.8" width="20.7" height="36.74" fill="url(#p2)" stroke="#000" stroke-width="1.15"/>
<polygon points="446.04,279.54 447.18,278.44 447.18,216.7 446.04,217.8" fill="#000" stroke="#000" stroke-width="0.6"/>
<polygon points="425.34,217.8 446.04,217.8 447.18,216.7 426.48,216.7" fill="#000" stroke="#000" stroke-width="0.6"/>
<rect x="425.34" y="217.8" width="20.7" height="61.74" fill="url(#p2)" stroke="#000" stroke-width="1.15"/>
<polygon points="475.72,279.54 476.86,278.44 476.86,274 475.72,275.1" fill="#000" stroke="#000" stroke-width="0.6"/>
<polygon points="455.02,275.1 475.72,275.1 476.86,274 456.16,274" fill="#000" stroke="#000" stroke-width="0.6"/>
<rect x="455.02" y="275.1" width="20.7" height="4.44" fill="url(#p2)" stroke="#000" stroke-width="1.15"/>
<polygon points="505.4,279.54 506.54,278.44 506.54,220.2 505.4,221.3" fill="#000" stroke="#000" stroke-width="0.6"/>
<polygon points="484.7,221.3 505.4,221.3 506.54,220.2 485.84,220.2" fill="#000" stroke="#000" stroke-width="0.6"/>
<rect x="484.7" y="221.3" width="20.7" height="58.24" fill="url(#p2)" stroke="#000" stroke-width="1.15"/>
<polygon points="85.98,283.32 87.12,282.22 87.12,232 85.98,233.1" fill="#000" stroke="#000" stroke-width="0.6"/>
<polygon points="65.28,233.1 85.98,233.1 87.12,232 66.42,232" fill="#000" stroke="#000" stroke-width="0.6"/>
<rect x="65.28" y="233.1" width="20.7" height="50.22" fill="url(#p1)" stroke="#000" stroke-width="1.15"/>
<polygon points="115.67,283.32 116.8,282.22 116.8,275.6 115.67,276.7" fill="#000" stroke="#000" stroke-width="0.6"/>
<polygon points="94.97,276.7 115.67,276.7 116.8,275.6 96.1,275.6" fill="#000" stroke="#000" stroke-width="0.6"/>
<rect x="94.97" y="276.7" width="20.7" height="6.62" fill="url(#p1)" stroke="#000" stroke-width="1.15"/>
<polygon points="145.34,283.32 146.48,282.22 146.48,260.2 145.34,261.3" fill="#000" stroke="#000" stroke-width="0.6"/>
<polygon points="124.64,261.3 145.34,261.3 146.48,260.2 125.78,260.2" fill="#000" stroke="#000" stroke-width="0.6"/>
<rect x="124.64" y="261.3" width="20.7" height="22.02" fill="url(#p1)" stroke="#000" stroke-width="1.15"/>
<polygon points="234.38,283.32 235.52,282.22 235.52,197.1 234.38,198.2" fill="#000" stroke="#000" stroke-width="0.6"/>
<polygon points="213.69,198.2 234.38,198.2 235.52,197.1 214.82,197.1" fill="#000" stroke="#000" stroke-width="0.6"/>
<rect x="213.69" y="198.2" width="20.7" height="85.12" fill="url(#p1)" stroke="#000" stroke-width="1.15"/>
<polygon points="243.36,283.32 264.06,283.32 265.9,281.54 245.2,281.54" fill="#000" stroke="#000" stroke-width="0.6"/>
<polygon points="273.04,283.32 293.74,283.32 295.58,281.54 274.88,281.54" fill="#000" stroke="#000" stroke-width="0.6"/>
<polygon points="302.72,283.32 323.42,283.32 325.26,281.54 304.56,281.54" fill="#000" stroke="#000" stroke-width="0.6"/>
<polygon points="353.1,283.32 354.24,282.22 354.24,272.6 353.1,273.7" fill="#000" stroke="#000" stroke-width="0.6"/>
<polygon points="332.4,273.7 353.1,273.7 354.24,272.6 333.54,272.6" fill="#000" stroke="#000" stroke-width="0.6"/>
<rect x="332.4" y="273.7" width="20.7" height="9.62" fill="url(#p1)" stroke="#000" stroke-width="1.15"/>
<polygon points="442.14,283.32 443.28,282.22 443.28,255 442.14,256.1" fill="#000" stroke="#000" stroke-width="0.6"/>
<polygon points="421.44,256.1 442.14,256.1 443.28,255 422.58,255" fill="#000" stroke="#000" stroke-width="0.6"/>
<rect x="421.44" y="256.1" width="20.7" height="27.22" fill="url(#p1)" stroke="#000" stroke-width="1.15"/>
<polygon points="471.82,283.32 472.96,282.22 472.96,280.5 471.82,281.6" fill="#000" stroke="#000" stroke-width="0.6"/>
<polygon points="451.12,281.6 471.82,281.6 472.96,280.5 452.26,280.5" fill="#000" stroke="#000" stroke-width="0.6"/>
<rect x="451.12" y="281.6" width="20.7" height="1.72" fill="url(#p1)" stroke="#000" stroke-width="1.15"/>
<polygon points="501.5,283.32 502.64,282.22 502.64,232.9 501.5,234" fill="#000" stroke="#000" stroke-width="0.6"/>
<polygon points="480.8,234 501.5,234 502.64,232.9 481.94,232.9" fill="#000" stroke="#000" stroke-width="0.6"/>
<rect x="480.8" y="234" width="20.7" height="49.32" fill="url(#p1)" stroke="#000" stroke-width="1.15"/>
<polygon points="82.08,287.1 83.22,286 83.22,256.4 82.08,257.5" fill="#000" stroke="#000" stroke-width="0.6"/>
<polygon points="61.38,257.5 82.08,257.5 83.22,256.4 62.52,256.4" fill="#000" stroke="#000" stroke-width="0.6"/>
<rect x="61.38" y="257.5" width="20.7" height="29.6" fill="url(#p0)" stroke="#000" stroke-width="1.15"/>
<polygon points="91.06,287.1 111.77,287.1 113.6,285.32 92.9,285.32" fill="#000" stroke="#000" stroke-width="0.6"/>
<polygon points="141.44,287.1 142.58,286 142.58,271.7 141.44,272.8" fill="#000" stroke="#000" stroke-width="0.6"/>
<polygon points="120.74,272.8 141.44,272.8 142.58,271.7 121.88,271.7" fill="#000" stroke="#000" stroke-width="0.6"/>
<rect x="120.74" y="272.8" width="20.7" height="14.3" fill="url(#p0)" stroke="#000" stroke-width="1.15"/>
<polygon points="230.48,287.1 231.62,286 231.62,270.4 230.48,271.5" fill="#000" stroke="#000" stroke-width="0.6"/>
<polygon points="209.78,271.5 230.48,271.5 231.62,270.4 210.92,270.4" fill="#000" stroke="#000" stroke-width="0.6"/>
<rect x="209.78" y="271.5" width="20.7" height="15.6" fill="url(#p0)" stroke="#000" stroke-width="1.15"/>
<polygon points="239.46,287.1 260.16,287.1 262,285.32 241.3,285.32" fill="#000" stroke="#000" stroke-width="0.6"/>
<polygon points="269.14,287.1 289.84,287.1 291.68,285.32 270.98,285.32" fill="#000" stroke="#000" stroke-width="0.6"/>
<polygon points="298.82,287.1 319.52,287.1 321.36,285.32 300.66,285.32" fill="#000" stroke="#000" stroke-width="0.6"/>
<polygon points="349.2,287.1 350.34,286 350.34,275.2 349.2,276.3" fill="#000" stroke="#000" stroke-width="0.6"/>
<polygon points="328.5,276.3 349.2,276.3 350.34,275.2 329.64,275.2" fill="#000" stroke="#000" stroke-width="0.6"/>
<rect x="328.5" y="276.3" width="20.7" height="10.8" fill="url(#p0)" stroke="#000" stroke-width="1.15"/>
<polygon points="438.24,287.1 439.38,286 439.38,264.8 438.24,265.9" fill="#000" stroke="#000" stroke-width="0.6"/>
<polygon points="417.54,265.9 438.24,265.9 439.38,264.8 418.68,264.8" fill="#000" stroke="#000" stroke-width="0.6"/>
<rect x="417.54" y="265.9" width="20.7" height="21.2" fill="url(#p0)" stroke="#000" stroke-width="1.15"/>
<polygon points="447.22,287.1 467.92,287.1 469.76,285.32 449.06,285.32" fill="#000" stroke="#000" stroke-width="0.6"/>
<polygon points="497.6,287.1 498.74,286 498.74,279.8 497.6,280.9" fill="#000" stroke="#000" stroke-width="0.6"/>
<polygon points="476.9,280.9 497.6,280.9 498.74,279.8 478.04,279.8" fill="#000" stroke="#000" stroke-width="0.6"/>
<rect x="476.9" y="280.9" width="20.7" height="6.2" fill="url(#p0)" stroke="#000" stroke-width="1.15"/>
<text transform="translate(21.8 41.85) scale(0.8143 1)" x="-0" y="0" class="ax">2400</text>
<text transform="translate(21.8 58.07) scale(0.8143 1)" x="-0" y="0" class="ax">2000</text>
<text transform="translate(21.8 74.28) scale(0.8143 1)" x="-0" y="0" class="ax">1600</text>
<text transform="translate(21.8 90.5) scale(0.8143 1)" x="-0" y="0" class="ax">1200</text>
<text transform="translate(26.4 106.71) scale(0.8122 1)" x="-0" y="0" class="ax">800</text>
<text transform="translate(26.4 122.93) scale(0.8122 1)" x="-0" y="0" class="ax">400</text>
<text transform="translate(36.1 139.15) scale(0.7136 1)" x="-0" y="0" class="ax">0</text>
<text transform="translate(23 195.15) scale(0.8143 1)" x="-0" y="0" class="ax">2400</text>
<text transform="translate(23 211.37) scale(0.8143 1)" x="-0" y="0" class="ax">2000</text>
<text transform="translate(23 227.58) scale(0.8143 1)" x="-0" y="0" class="ax">1600</text>
<text transform="translate(23 243.8) scale(0.8143 1)" x="-0" y="0" class="ax">1200</text>
<text transform="translate(27.6 260.01) scale(0.8122 1)" x="-0" y="0" class="ax">800</text>
<text transform="translate(27.6 276.23) scale(0.8122 1)" x="-0" y="0" class="ax">400</text>
<text transform="translate(37.3 292.45) scale(0.7136 1)" x="-0" y="0" class="ax">0</text>
<text transform="translate(0.8 17) scale(0.9818 1)" x="-0" y="0" class="pl">A</text>
<text transform="translate(-1.8 187.2) scale(0.9938 1)" x="-0" y="0" class="pl">B</text>
<text transform="translate(70.4 12.6) scale(0.9967 1)" x="-0" y="0" class="ti">HIV p24 (pg/ml)</text>
<text transform="translate(99.4 29) scale(0.8317 1)" x="-0" y="0" class="bt">PR-5/PR-5</text>
<text transform="translate(269.2 29.1) scale(0.8696 1)" x="-0" y="0" class="bt">PR-1/PR-5</text>
<text transform="translate(405.5 29) scale(0.8715 1)" x="-0" y="0" class="bt">PR-1/PR-5 + anti-chemAbs</text>
<text transform="translate(102.8 183) scale(0.8340 1)" x="-0" y="0" class="bt">PR-6/PR-6</text>
<text transform="translate(272.8 183) scale(0.8451 1)" x="-0" y="0" class="bt">PR-3/PR-6</text>
<text transform="translate(408.7 182.8) scale(0.8655 1)" x="-0" y="0" class="bt">PR-3/PR-6 + anti-chemAbs</text>
<text transform="translate(1.5 307.2) scale(0.8466 1)" x="-0" y="0" class="bt">CD8 : CD4</text>
<text transform="translate(58.79 153.7) scale(0.7450 1)" x="0" y="0" class="cl">0:1</text>
<text transform="translate(92.61 153.7) scale(0.7450 1)" x="0" y="0" class="cl">1:1</text>
<text transform="translate(122.99 153.7) scale(0.7450 1)" x="0" y="0" class="cl">1:5</text>
<text transform="translate(209.29 153.7) scale(0.7450 1)" x="0" y="0" class="cl">0:1</text>
<text transform="translate(242.61 153.7) scale(0.7450 1)" x="0" y="0" class="cl">1:1</text>
<text transform="translate(272.69 153.7) scale(0.7450 1)" x="0" y="0" class="cl">1:5</text>
<text transform="translate(300.95 153.7) scale(0.7450 1)" x="0" y="0" class="cl">1:20</text>
<text transform="translate(330.55 153.7) scale(0.7450 1)" x="0" y="0" class="cl">1:50</text>
<text transform="translate(417.69 153.7) scale(0.7450 1)" x="0" y="0" class="cl">0:1</text>
<text transform="translate(451.21 153.7) scale(0.7450 1)" x="0" y="0" class="cl">1:1</text>
<text transform="translate(481.59 153.7) scale(0.7450 1)" x="0" y="0" class="cl">1:5</text>
<text transform="translate(58.46 307.7) scale(0.8600 1)" x="0" y="0" class="cl">0:1</text>
<text transform="translate(93.51 307.7) scale(0.7450 1)" x="0" y="0" class="cl">1:1</text>
<text transform="translate(123.79 307.7) scale(0.7450 1)" x="0" y="0" class="cl">1:5</text>
<text transform="translate(209.29 307.7) scale(0.7450 1)" x="0" y="0" class="cl">0:1</text>
<text transform="translate(242.61 307.7) scale(0.7450 1)" x="0" y="0" class="cl">1:1</text>
<text transform="translate(272.69 307.7) scale(0.7450 1)" x="0" y="0" class="cl">1:5</text>
<text transform="translate(300.95 307.7) scale(0.7450 1)" x="0" y="0" class="cl">1:20</text>
<text transform="translate(330.55 307.7) scale(0.7450 1)" x="0" y="0" class="cl">1:50</text>
<text transform="translate(416.69 307.7) scale(0.7450 1)" x="0" y="0" class="cl">0:1</text>
<text transform="translate(449.61 307.7) scale(0.7450 1)" x="0" y="0" class="cl">1:1</text>
<text transform="translate(479.99 307.7) scale(0.7450 1)" x="0" y="0" class="cl">1:5</text>
<clipPath id="lc0"><rect x="186.85" y="317.55" width="9.4" height="6.5"/></clipPath>
<rect x="186.85" y="317.55" width="9.4" height="6.5" fill="#000"/>
<g clip-path="url(#lc0)" fill="#fff"><circle cx="188.75" cy="321.5" r="1.9"/><circle cx="194.65" cy="321.5" r="1.9"/><circle cx="191.75" cy="318.2" r="1.6"/><circle cx="191.95" cy="324.6" r="1.5"/></g>
<rect x="186.85" y="317.55" width="9.4" height="6.5" fill="none" stroke="#000" stroke-width="1.3"/>
<text transform="translate(198 324.5) scale(0.9613 1)" x="-0" y="0" class="lg">day 8</text>
<clipPath id="lc1"><rect x="233.55" y="317.55" width="9.4" height="6.5"/></clipPath>
<rect x="233.55" y="317.55" width="9.4" height="6.5" fill="#fff"/>
<g clip-path="url(#lc1)" fill="none" stroke="#000" stroke-width="1.05"><path d="M233.4 322.2 q2.7 -3.6 5.4 -0.6 t5.6 -1.6"/><path d="M233.4 318.2 q2.7 -3.6 5.4 -0.6 t5.6 -1.6"/><path d="M233.4 326.2 q2.7 -3.6 5.4 -0.6 t5.6 -1.6"/></g>
<rect x="233.55" y="317.55" width="9.4" height="6.5" fill="none" stroke="#000" stroke-width="1.3"/>
<text transform="translate(245 324.5) scale(0.9471 1)" x="-0" y="0" class="lg">day 16</text>
<clipPath id="lc2"><rect x="286.85" y="317.55" width="9.6" height="6.5"/></clipPath>
<rect x="286.85" y="317.55" width="9.6" height="6.5" fill="#cfcfcf"/>
<rect x="286.85" y="317.55" width="9.6" height="6.5" fill="url(#p2)" opacity="0.5"/>
<rect x="286.85" y="317.55" width="9.6" height="6.5" fill="none" stroke="#000" stroke-width="1.3"/>
<text transform="translate(297.9 324.5) scale(0.9614 1)" x="-0" y="0" class="lg">day 24</text>
<clipPath id="lc3"><rect x="339.65" y="317.55" width="9.8" height="6.5"/></clipPath>
<rect x="339.65" y="317.55" width="9.8" height="6.5" fill="#fff"/>
<circle cx="346" cy="321.9" r="0.95" fill="#000"/><circle cx="342.4" cy="318.5" r="0.8" fill="#000"/>
<rect x="339.65" y="317.55" width="9.8" height="6.5" fill="none" stroke="#000" stroke-width="1.3"/>
<text transform="translate(351.9 324.5) scale(0.9443 1)" x="-0" y="0" class="lg">day 32</text>
</svg>
</body></html>
